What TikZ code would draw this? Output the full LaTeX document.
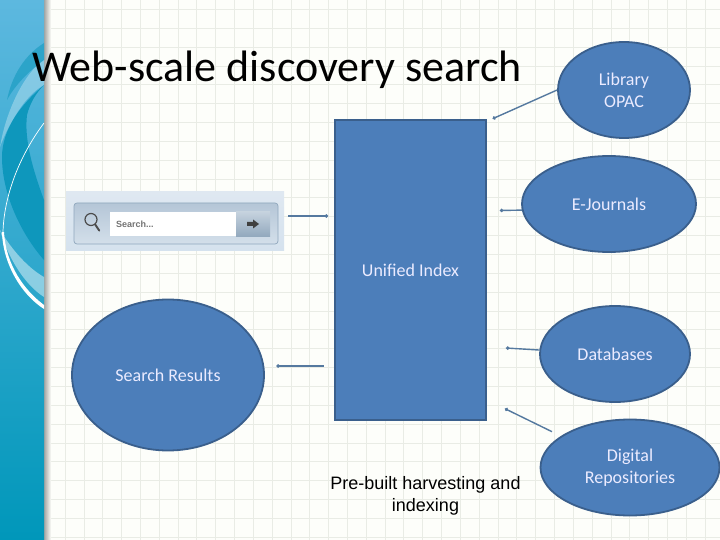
\documentclass[tikz,border=0pt]{standalone}
\usepackage{fontspec}
\setmainfont{Carlito}
\newfontfamily\arialfont{Liberation Sans}
\usetikzlibrary{shapes.geometric,arrows.meta}
\definecolor{pagebg}{HTML}{FDFEFA}
\definecolor{gridline}{HTML}{E9ECE5}
\definecolor{shapefill}{HTML}{4C7EBA}
\definecolor{shapeline}{HTML}{3A5F8C}
\definecolor{linkcol}{HTML}{55799F}
\definecolor{bandtop}{HTML}{5DB8DF}
\definecolor{bandbot}{HTML}{0097BA}
\definecolor{swoosh}{HTML}{0E97BC}
\definecolor{bartop}{HTML}{DFE8F1}
\definecolor{barbot}{HTML}{D5E2EE}
\definecolor{innertop}{HTML}{B5C6D7}
\definecolor{innerbot}{HTML}{D3DFEA}
\definecolor{innerline}{HTML}{90A7BD}
\definecolor{gotop}{HTML}{C5D2DE}
\definecolor{gobot}{HTML}{93A9BE}
\begin{document}
\begin{tikzpicture}[x=1pt,y=-1pt,
	blob/.style={ellipse,draw=shapeline,line width=1.8pt,fill=shapefill,text=white!92!blue,inner sep=0pt,align=center,font=\fontsize{18}{22}\selectfont},
	link/.style={linkcol,line width=1.4pt,-{Circle[length=3.4pt]}},
	barpart/.style={inner sep=0pt,outer sep=0pt}]
\useasboundingbox (0,0) rectangle (720,540);
\fill[pagebg] (0,0) rectangle (720,540);
\foreach \i in {0,...,36}{
	\draw[gridline,line width=.6pt] (46.2+18.82*\i,0) -- (46.2+18.82*\i,540);}
\foreach \i in {0,...,28}{
	\draw[gridline,line width=.6pt] (44,9.3+18.85*\i) -- (720,9.3+18.85*\i);}
\shade[left color=black!35!pagebg,right color=pagebg] (44,0) rectangle (51,540);
\begin{scope}
	\clip (0,0) rectangle (44,540);
	\shade[top color=bandtop,bottom color=bandbot] (0,0) rectangle (44,540);
	\fill[swoosh] (44,85) .. controls (20,105) and (2,130) .. (2,157) .. controls (2,195) and (22,235) .. (44,260) -- (44,200) .. controls (33,170) and (24,140) .. (27,115) .. controls (30,103) and (36,93) .. (44,85) -- cycle;
	\fill[white,opacity=.3] (44,60) .. controls (25,72) and (6,110) .. (0,147) .. controls (8,125) and (25,95) .. (44,85) -- cycle;
	\fill[swoosh,opacity=.55] (44,43) .. controls (25,55) and (12,75) .. (7,100) .. controls (15,85) and (30,70) .. (44,60) -- cycle;
	\fill[white,opacity=.45] (0,230) .. controls (12,250) and (28,268) .. (44,277) -- (44,297) .. controls (25,285) and (8,258) .. (0,230) -- cycle;
	\draw[white,line width=.7pt] (44,123) .. controls (20,155) and (4,195) .. (3,232);
	\fill[white] (2,232) .. controls (3,265) and (22,295) .. (44,309) -- (44,305) .. controls (24,290) and (6,265) .. (4,232) -- cycle;
\end{scope}
\node[anchor=base west,inner sep=0pt,font=\fontsize{44}{48}\selectfont] (title) at (32,82) {Web-scale discovery search};
\node[rectangle,draw=shapeline,line width=1.8pt,fill=shapefill,text=white!92!blue,minimum width=151pt,minimum height=300pt,inner sep=0pt,font=\fontsize{18}{22}\selectfont] (index) at (410.5,270) {Unified Index};
\node[blob,minimum width=132pt,minimum height=96pt] (opac) at (624,90) {Library\\OPAC};
\node[blob,minimum width=174pt,minimum height=96pt] (journals) at (609,204) {E-Journals};
\node[blob,minimum width=150pt,minimum height=96pt] (databases) at (615,354) {Databases};
\node[blob,minimum width=179pt,minimum height=96pt] (repos) at (630,467.5) {Digital\\Repositories};
\node[blob,minimum width=192pt,minimum height=151pt] (results) at (168,375) {Search Results};
\node[align=center,inner sep=0pt,font=\arialfont\fontsize{18}{22}\selectfont] (harvest) at (425.5,496) {Pre-built harvesting and\\indexing};
\node[barpart,minimum width=218pt,minimum height=58pt,top color=bartop,bottom color=barbot] (bar) at (175,221) {};
\node[barpart,draw=innerline,rounded corners=3pt,line width=.7pt,minimum width=204pt,minimum height=41pt,top color=innertop,bottom color=innerbot] (barinner) at (176,223.5) {};
\node[barpart,fill=white,minimum width=126pt,minimum height=24pt,text=black!55,text width=114pt,align=left,font=\arialfont\bfseries\fontsize{9}{11}\selectfont] (field) at (173,224) {Search...};
\node[barpart,minimum width=34pt,minimum height=24pt,top color=gotop,bottom color=gobot] (gobutton) at (253,224) {};
\fill[black!75] (gobutton.center) ++(-6,-2) -- ++(6,0) -- ++(0,-2.5) -- ++(6,4.5) -- ++(-6,4.5) -- ++(0,-2.5) -- ++(-6,0) -- cycle;
\node[circle,draw=black!70,line width=1.2pt,minimum size=12pt,inner sep=0pt] (glass) at (91,219.5) {};
\draw[black!70,line width=2pt,line cap=round] (glass.-50) -- ++(4,6);
\coordinate (barend) at (328,216);
\coordinate (barstart) at (288,216);
\coordinate (resultstart) at (323.5,366);
\coordinate (resultend) at (276.5,366);
\coordinate (opacend) at (492.7,118.7);
\coordinate (journalend) at (500,210.5);
\coordinate (dbend) at (506,348);
\coordinate (repostart) at (552,431.7);
\coordinate (repoend) at (505,408.7);
\draw[link] (barstart) -- (barend);
\draw[link] (resultstart) -- (resultend);
\draw[link] (opac.west) -- (opacend);
\draw[link] (journals.184.6) -- (journalend);
\draw[link] (databases.177) -- (dbend);
\draw[link] (repostart) -- (repoend);
\end{tikzpicture}
\end{document}
